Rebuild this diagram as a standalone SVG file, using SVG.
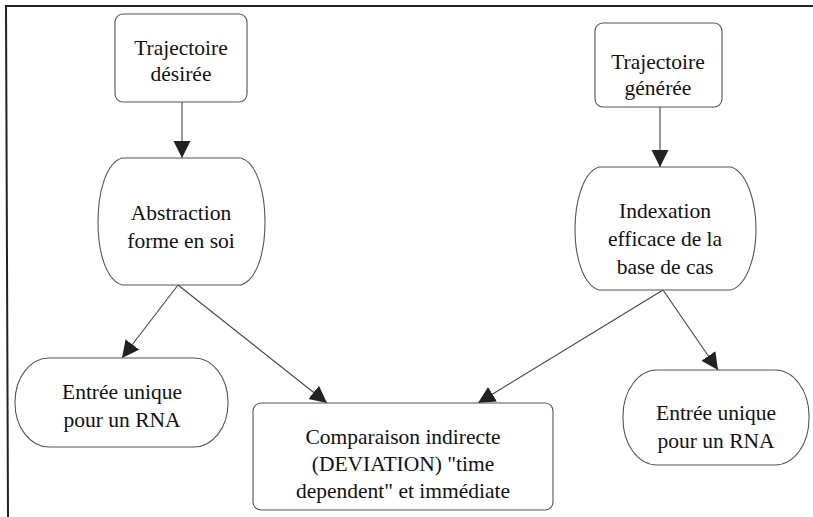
<svg xmlns="http://www.w3.org/2000/svg" width="813" height="517" viewBox="0 0 813 517">
<style>
.node{fill:#fff;stroke:#555;stroke-width:1.1}
.t{font-family:'Liberation Serif','Times New Roman',Times,serif;font-size:21.5px;fill:#111;text-anchor:middle}
.c{stroke:#444;stroke-width:1.1;fill:none;marker-end:url(#ah)}
.frame{stroke:#222;stroke-width:2;fill:none}
</style>
<defs>
<marker id="ah" markerUnits="userSpaceOnUse" markerWidth="20" markerHeight="20" refX="17" refY="8.5" orient="auto">
<path d="M0,0 L17,8.5 L0,17 Z" fill="#222"/>
</marker>
</defs>
<rect width="813" height="517" fill="#fff"/>
<path class="frame" d="M813,6 L6,6 L8,517"/>
<g id="connectors">
<line class="c" x1="182" y1="102" x2="182" y2="158"/>
<line class="c" x1="660" y1="107" x2="660" y2="167"/>
<line class="c" x1="178" y1="285" x2="122" y2="358"/>
<line class="c" x1="178" y1="285" x2="327" y2="403"/>
<line class="c" x1="663" y1="290" x2="478" y2="403"/>
<line class="c" x1="663" y1="290" x2="718" y2="370"/>
</g>
<g id="traj-desiree">
<rect class="node" x="115" y="14" width="132" height="88" rx="8"/>
<text class="t" x="181" y="55">Trajectoire</text>
<text class="t" x="181" y="81">désirée</text>
</g>
<g id="traj-generee">
<rect class="node" x="595" y="23" width="127" height="84" rx="8"/>
<text class="t" x="658" y="69">Trajectoire</text>
<text class="t" x="658" y="95">générée</text>
</g>
<g id="abstraction">
<path class="node" d="M122,158 L241,158 C257,163 265,192 265,222 C265,252 257,280 241,285 L122,285 C106,280 98,252 98,222 C98,192 106,163 122,158 Z"/>
<text class="t" x="181" y="220">Abstraction</text>
<text class="t" x="181" y="248">forme en soi</text>
</g>
<g id="indexation">
<path class="node" d="M599,167 L731,167 C747,172 756,202 756,229 C756,257 747,285 731,290 L599,290 C583,285 575,257 575,229 C575,202 583,172 599,167 Z"/>
<text class="t" x="665" y="218">Indexation</text>
<text class="t" x="665" y="246">efficace de la</text>
<text class="t" x="665" y="274">base de cas</text>
</g>
<g id="entree-gauche">
<rect class="node" x="15" y="358" width="213" height="89" rx="34" ry="44"/>
<text class="t" x="122" y="399">Entrée unique</text>
<text class="t" x="122" y="427">pour un RNA</text>
</g>
<g id="comparaison">
<rect class="node" x="253" y="403" width="300" height="107" rx="8"/>
<text class="t" x="403" y="444">Comparaison indirecte</text>
<text class="t" x="403" y="471">(DEVIATION) "time</text>
<text class="t" x="403" y="498">dependent" et immédiate</text>
</g>
<g id="entree-droite">
<rect class="node" x="623" y="370" width="186" height="95" rx="34" ry="46"/>
<text class="t" x="716" y="420">Entrée unique</text>
<text class="t" x="716" y="448">pour un RNA</text>
</g>
</svg>
